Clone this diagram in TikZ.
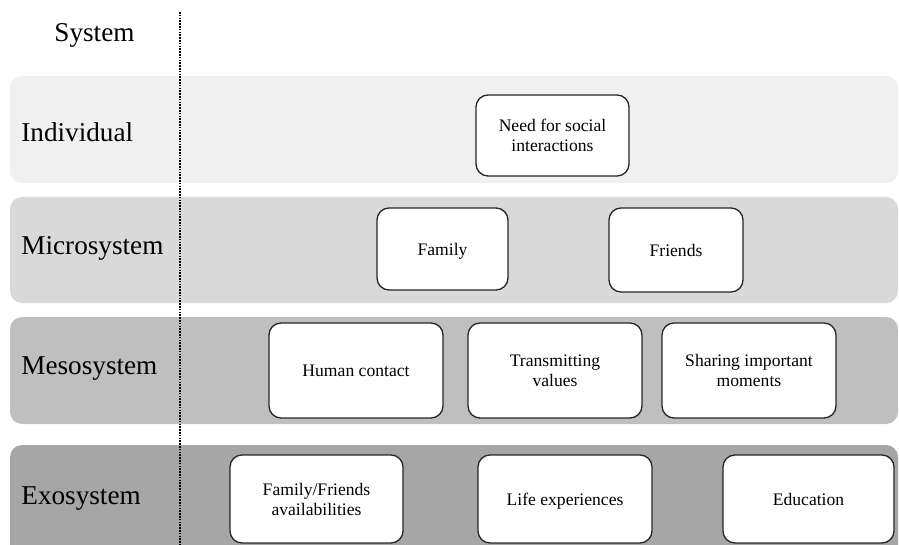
\documentclass[tikz,border=0pt]{standalone}
\usepackage{fontspec}
\setmainfont{Liberation Serif}

\tikzset{
	band/.style={rounded corners=6pt},
	sysbox/.style={draw=black!85, line width=0.65pt, fill=white, rounded corners=6pt, align=center, inner sep=0pt, font=\fontsize{8.8}{10}\selectfont},
	oneline/.style={text depth=0pt},
	syslabel/.style={anchor=base west, inner sep=0pt, font=\fontsize{13.6}{16}\selectfont},
	divider/.style={line width=0.55pt, dash pattern=on 0.8pt off 0.6pt}
}

\begin{document}
\begin{tikzpicture}[x=0.5pt, y=-0.5pt]
			%%%%% START %%%%%
			\useasboundingbox (0, 0) rectangle (899, 545);
			\clip (0, 0) rectangle (899, 545);
			
			% bands
			\fill[band, black!6] (10, 76) rectangle (898, 183);
			\fill[band, black!15] (10, 197) rectangle (898, 303);
			\fill[band, black!25] (10, 317) rectangle (898, 424);
			\fill[band, black!35] (10, 445) rectangle (898, 580);
			
			% system names
			\node[syslabel] (system) at (54, 42) {System};
			\node[syslabel] (individual) at (21, 142) {Individual};
			\node[syslabel] (micro) at (21, 255) {Microsystem};
			\node[syslabel] (meso) at (21, 374) {Mesosystem};
			\node[syslabel] (exo) at (21, 504) {Exosystem};
			
			\coordinate (divtop) at (180, 12);
			\coordinate (divbot) at (180, 545);
			\draw[divider] (divtop) -- (divbot);
			
			% individual
			\node[sysbox, minimum width=76.5pt, minimum height=40.5pt] (need) at (552.5, 135.5) {Need for social\\interactions};
			
			% microsystem
			\node[sysbox, oneline, minimum width=65.5pt, minimum height=41pt] (family) at (442.5, 249) {Family};
			\node[sysbox, oneline, minimum width=67pt, minimum height=42pt] (friends) at (676, 250) {Friends};
			
			% mesosystem
			\node[sysbox, oneline, minimum width=87pt, minimum height=47.5pt] (contact) at (356, 370.5) {Human contact};
			\node[sysbox, minimum width=87pt, minimum height=47.5pt] (values) at (555, 370.5) {Transmitting\\values};
			\node[sysbox, minimum width=87pt, minimum height=47.5pt] (moments) at (749, 370.5) {Sharing important\\moments};
			
			% exosystem
			\node[sysbox, minimum width=86.5pt, minimum height=44pt] (avail) at (316.5, 499) {Family/Friends\\availabilities};
			\node[sysbox, oneline, minimum width=87pt, minimum height=44pt] (life) at (565, 499) {Life experiences};
			\node[sysbox, oneline, minimum width=85.5pt, minimum height=44pt] (education) at (808.5, 499) {Education};
			
			%%%%% END %%%%%
\end{tikzpicture}
\end{document}
